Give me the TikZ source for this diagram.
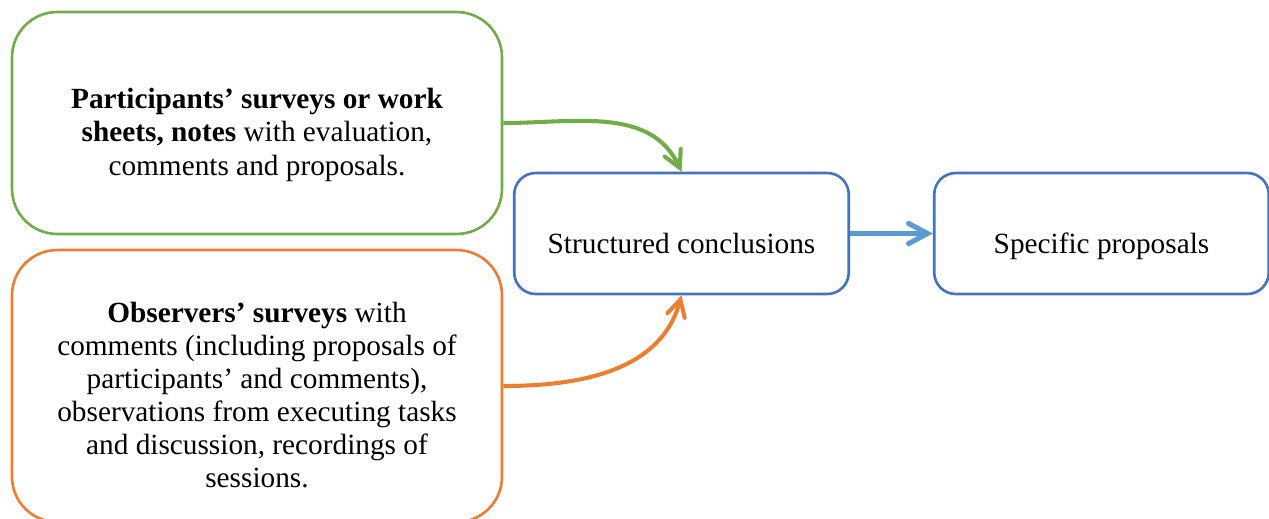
\documentclass[tikz,border=0pt]{standalone}
\usepackage{fontspec}
\setmainfont{Liberation Serif}
\usepackage{tikz}
\usetikzlibrary{arrows.meta}
\definecolor{boxgreen}{HTML}{70AD47}
\definecolor{boxorange}{HTML}{ED7D31}
\definecolor{boxblue}{HTML}{4472C4}
\definecolor{arrowblue}{HTML}{5B9BD5}
\tikzset{
	srcbox/.style={draw, line width=1.1pt, rounded corners=19pt, align=center, inner sep=0pt,
		minimum width=205.8pt, font=\fontsize{12.3}{13.9}\selectfont},
	resbox/.style={draw=boxblue, line width=1.1pt, rounded corners=9pt, align=center, inner sep=0pt,
		minimum width=140.5pt, minimum height=50.8pt, font=\fontsize{12.3}{13.9}\selectfont},
	flow/.style={line width=1.7pt, -{Straight Barb[length=7pt,width=7.5pt,line cap=round]}}
}
\begin{document}
\begin{tikzpicture}[x=0.42pt, y=-0.42pt]
			\useasboundingbox (0,0) rectangle (1269,518);
			\node[srcbox, draw=boxgreen, minimum height=93.2pt] (part) at (257,123)
				{\rule{0pt}{18.5pt}\textbf{Participants’ surveys or work}\\ \textbf{sheets, notes} with evaluation,\\ comments and proposals.};
			\node[srcbox, draw=boxorange, minimum height=114.2pt] (obs) at (257,386)
				{\rule{0pt}{16pt}\textbf{Observers’ surveys} with\\ comments (including proposals of\\ participants’ and comments),\\ observations from executing tasks\\ and discussion, recordings of\\ sessions.};
			\node[resbox] (concl) at (681.5,233.5) {\rule[-3.5pt]{0pt}{23.5pt}Structured conclusions};
			\node[resbox] (prop) at (1101.5,233.5) {\rule[-3.5pt]{0pt}{23.5pt}Specific proposals};
			
			\draw[flow, boxgreen]  (part.east) to[out=0, in=115] (concl.north);
			\draw[flow, boxorange] (obs.east) to[out=0, in=-105] (concl.south);
			\draw[flow, arrowblue, line width=2.1pt, -{Straight Barb[length=8pt,width=8.5pt,line cap=round]}] (concl) -- (prop);
		\end{tikzpicture}
\end{document}
